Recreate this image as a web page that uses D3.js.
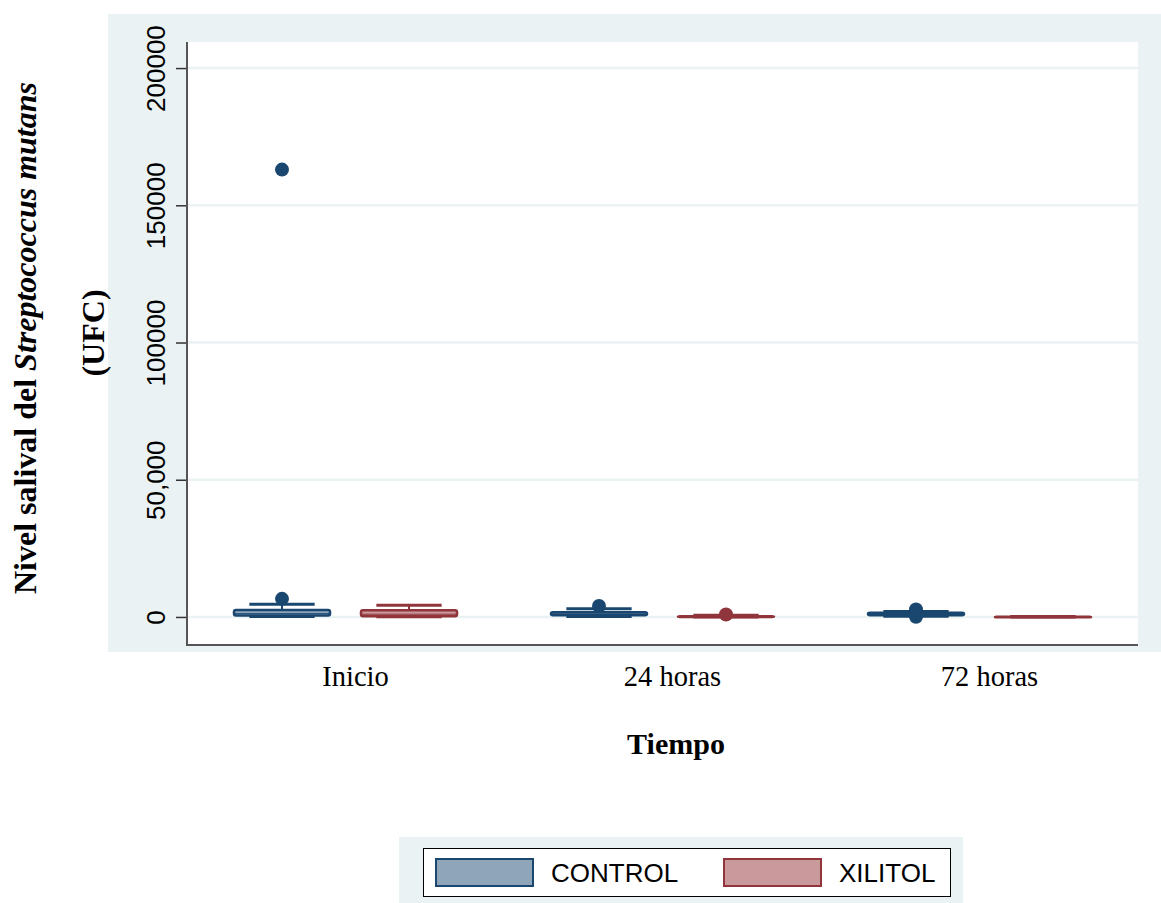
<!DOCTYPE html>
<html><head><meta charset="utf-8">
<script src="https://cdn.jsdelivr.net/npm/d3@7"></script>
<style>
html,body{margin:0;padding:0;background:#fff;}
svg{display:block;}
</style></head>
<body>
<svg id="chart" width="1161" height="903"></svg>
<script>
// ---- data ----
const categories = ["Inicio", "24 horas", "72 horas"];
const groups = ["CONTROL", "XILITOL"];
// box statistics per category (order follows categories)
const controlLow      = [200, 200, 300];
const controlQ1       = [500, 600, 600];
const controlMedian   = [1200, 1100, 1000];
const controlQ3       = [2500, 1700, 1500];
const controlHigh     = [4600, 3000, 2000];
const controlOutliers = [[6600, 163000], [4000], [2700, 100]];
const xilitolLow      = [100, 0, 0];
const xilitolQ1       = [300, 0, 0];
const xilitolMedian   = [1000, 100, 0];
const xilitolQ3       = [2400, 300, 100];
const xilitolHigh     = [4300, 600, 200];
const xilitolOutliers = [[], [900], []];
const yTicks = [0, 50000, 100000, 150000, 200000];
const yTickLabels = ["0", "50,000", "100000", "150000", "200000"];
const xTitle = "Tiempo";

const colors = {
  CONTROL: {line: "#1a476f", fill: "#8fa6ba"},
  XILITOL: {line: "#90353b", fill: "#c9999c"}
};

const boxes = [];
categories.forEach((c, i) => {
  boxes.push({cat: c, grp: "CONTROL", low: controlLow[i], q1: controlQ1[i], med: controlMedian[i], q3: controlQ3[i], high: controlHigh[i], out: controlOutliers[i]});
  boxes.push({cat: c, grp: "XILITOL", low: xilitolLow[i], q1: xilitolQ1[i], med: xilitolMedian[i], q3: xilitolQ3[i], high: xilitolHigh[i], out: xilitolOutliers[i]});
});

const svg = d3.select("#chart");
const bg = "#eaf2f3";

// outer panel
svg.append("rect").attr("x", 108).attr("y", 14).attr("width", 1053).attr("height", 638).attr("fill", bg);
const P = {l: 187, r: 1138, t: 42, b: 645};
svg.append("rect").attr("x", P.l).attr("y", P.t).attr("width", P.r - P.l).attr("height", P.b - P.t).attr("fill", "#fff");

const y = d3.scaleLinear().domain([-10220, 209500]).range([P.b, P.t]);
const x = d3.scaleBand().domain(categories).range([P.l, P.r]).paddingInner(0).paddingOuter(0);
const xs = d3.scalePoint().domain(groups).range([0, x.bandwidth()]).padding(0.748);
const step = xs.step();
const boxW = step * 0.756;
const capW = boxW * 0.68;

// gridlines
svg.append("g").selectAll("line").data(yTicks).join("line")
  .attr("x1", P.l).attr("x2", P.r)
  .attr("y1", d => y(d)).attr("y2", d => y(d))
  .attr("stroke", bg).attr("stroke-width", 2.5);

// y axis
const yAxis = d3.axisLeft(y).tickValues(yTicks).tickFormat((d, i) => yTickLabels[i]).tickSize(11).tickPadding(0);
const ga = svg.append("g").attr("transform", `translate(${P.l},0)`).call(yAxis);
ga.select(".domain").remove();
ga.selectAll(".tick line").attr("stroke", "#333").attr("stroke-width", 1.5);
ga.selectAll(".tick text").remove();
ga.selectAll(".tick").append("text")
  .attr("transform", "translate(-22,0) rotate(-90)")
  .attr("text-anchor", "middle")
  .attr("dy", 0)
  .attr("fill", "#000")
  .style("font-family", "'Liberation Sans', Arial, sans-serif")
  .style("font-size", "26px")
  .text((d, i) => yTickLabels[i]);

// axis lines
svg.append("line").attr("x1", P.l).attr("x2", P.l).attr("y1", P.t).attr("y2", P.b + 1).attr("stroke", "#555").attr("stroke-width", 2);
svg.append("line").attr("x1", P.l).attr("x2", P.r).attr("y1", P.b).attr("y2", P.b).attr("stroke", "#555").attr("stroke-width", 2);

// x axis labels
const xAxis = d3.axisBottom(x).tickSize(0).tickPadding(0);
const gx = svg.append("g").attr("transform", `translate(10,${P.b})`).call(xAxis);
gx.select(".domain").remove();
gx.selectAll(".tick text")
  .attr("y", 41).attr("dy", 0)
  .attr("fill", "#000")
  .style("font-family", "'Liberation Serif', 'Times New Roman', serif")
  .style("font-size", "28.5px");

svg.append("text").attr("x", 676).attr("y", 754).attr("text-anchor", "middle")
  .style("font-family", "'Liberation Serif', 'Times New Roman', serif")
  .style("font-size", "30px").style("font-weight", "bold").text(xTitle);

// y title
const yt = svg.append("text").attr("transform", "translate(36,338) rotate(-90)").attr("text-anchor", "middle")
  .style("font-family", "'Liberation Serif', 'Times New Roman', serif")
  .style("font-size", "32px").style("font-weight", "bold");
yt.append("tspan").text("Nivel salival del ");
yt.append("tspan").style("font-style", "italic").text("Streptococcus mutans");
svg.append("text").attr("transform", "translate(104,333) rotate(-90)").attr("text-anchor", "middle")
  .style("font-family", "'Liberation Serif', 'Times New Roman', serif")
  .style("font-size", "32px").style("font-weight", "bold").text("(UFC)");

// boxes
const gb = svg.append("g").selectAll("g").data(boxes).join("g")
  .attr("transform", d => `translate(${x(d.cat) + xs(d.grp)},0)`);
// whiskers
gb.append("line").attr("x1", 0).attr("x2", 0).attr("y1", d => y(d.q3)).attr("y2", d => y(d.high))
  .attr("stroke", d => colors[d.grp].line).attr("stroke-width", 2);
gb.append("line").attr("x1", 0).attr("x2", 0).attr("y1", d => y(d.q1)).attr("y2", d => y(d.low))
  .attr("stroke", d => colors[d.grp].line).attr("stroke-width", 2);
gb.append("line").attr("x1", -capW / 2).attr("x2", capW / 2).attr("y1", d => y(d.high)).attr("y2", d => y(d.high))
  .attr("stroke", d => colors[d.grp].line).attr("stroke-width", 3);
gb.append("line").attr("x1", -capW / 2).attr("x2", capW / 2).attr("y1", d => y(d.low)).attr("y2", d => y(d.low))
  .attr("stroke", d => colors[d.grp].line).attr("stroke-width", 3);
// box
gb.append("rect").attr("x", -boxW / 2).attr("width", boxW)
  .attr("y", d => y(d.q3)).attr("height", d => Math.max(0.5, y(d.q1) - y(d.q3)))
  .attr("rx", 2)
  .attr("fill", d => colors[d.grp].fill).attr("stroke", d => colors[d.grp].line).attr("stroke-width", 2.5);
gb.append("line").attr("x1", -boxW / 2).attr("x2", boxW / 2).attr("y1", d => y(d.med)).attr("y2", d => y(d.med))
  .attr("stroke", d => colors[d.grp].line).attr("stroke-width", 1);
// outliers
gb.selectAll("circle").data(d => d.out.map(v => ({v, grp: d.grp}))).join("circle")
  .attr("cx", 0).attr("cy", d => y(d.v)).attr("r", 7)
  .attr("fill", d => colors[d.grp].line);

// legend
svg.append("rect").attr("x", 399).attr("y", 837).attr("width", 564).attr("height", 66).attr("fill", bg);
svg.append("rect").attr("x", 423.5).attr("y", 848.5).attr("width", 527).attr("height", 48).attr("fill", "#fff").attr("stroke", "#000").attr("stroke-width", 1);
const legX = [435, 723];
const lg = svg.append("g").selectAll("g").data(groups).join("g")
  .attr("transform", (d, i) => `translate(${legX[i]},858)`);
lg.append("rect").attr("x", 1).attr("y", 1).attr("width", 97).attr("height", 27)
  .attr("fill", d => colors[d].fill).attr("stroke", d => colors[d].line).attr("stroke-width", 2);
lg.append("text").attr("x", 116).attr("y", 24)
  .style("font-family", "'Liberation Sans', Arial, sans-serif").style("font-size", "26px").attr("fill", "#000")
  .text(d => d);
</script>
</body></html>
